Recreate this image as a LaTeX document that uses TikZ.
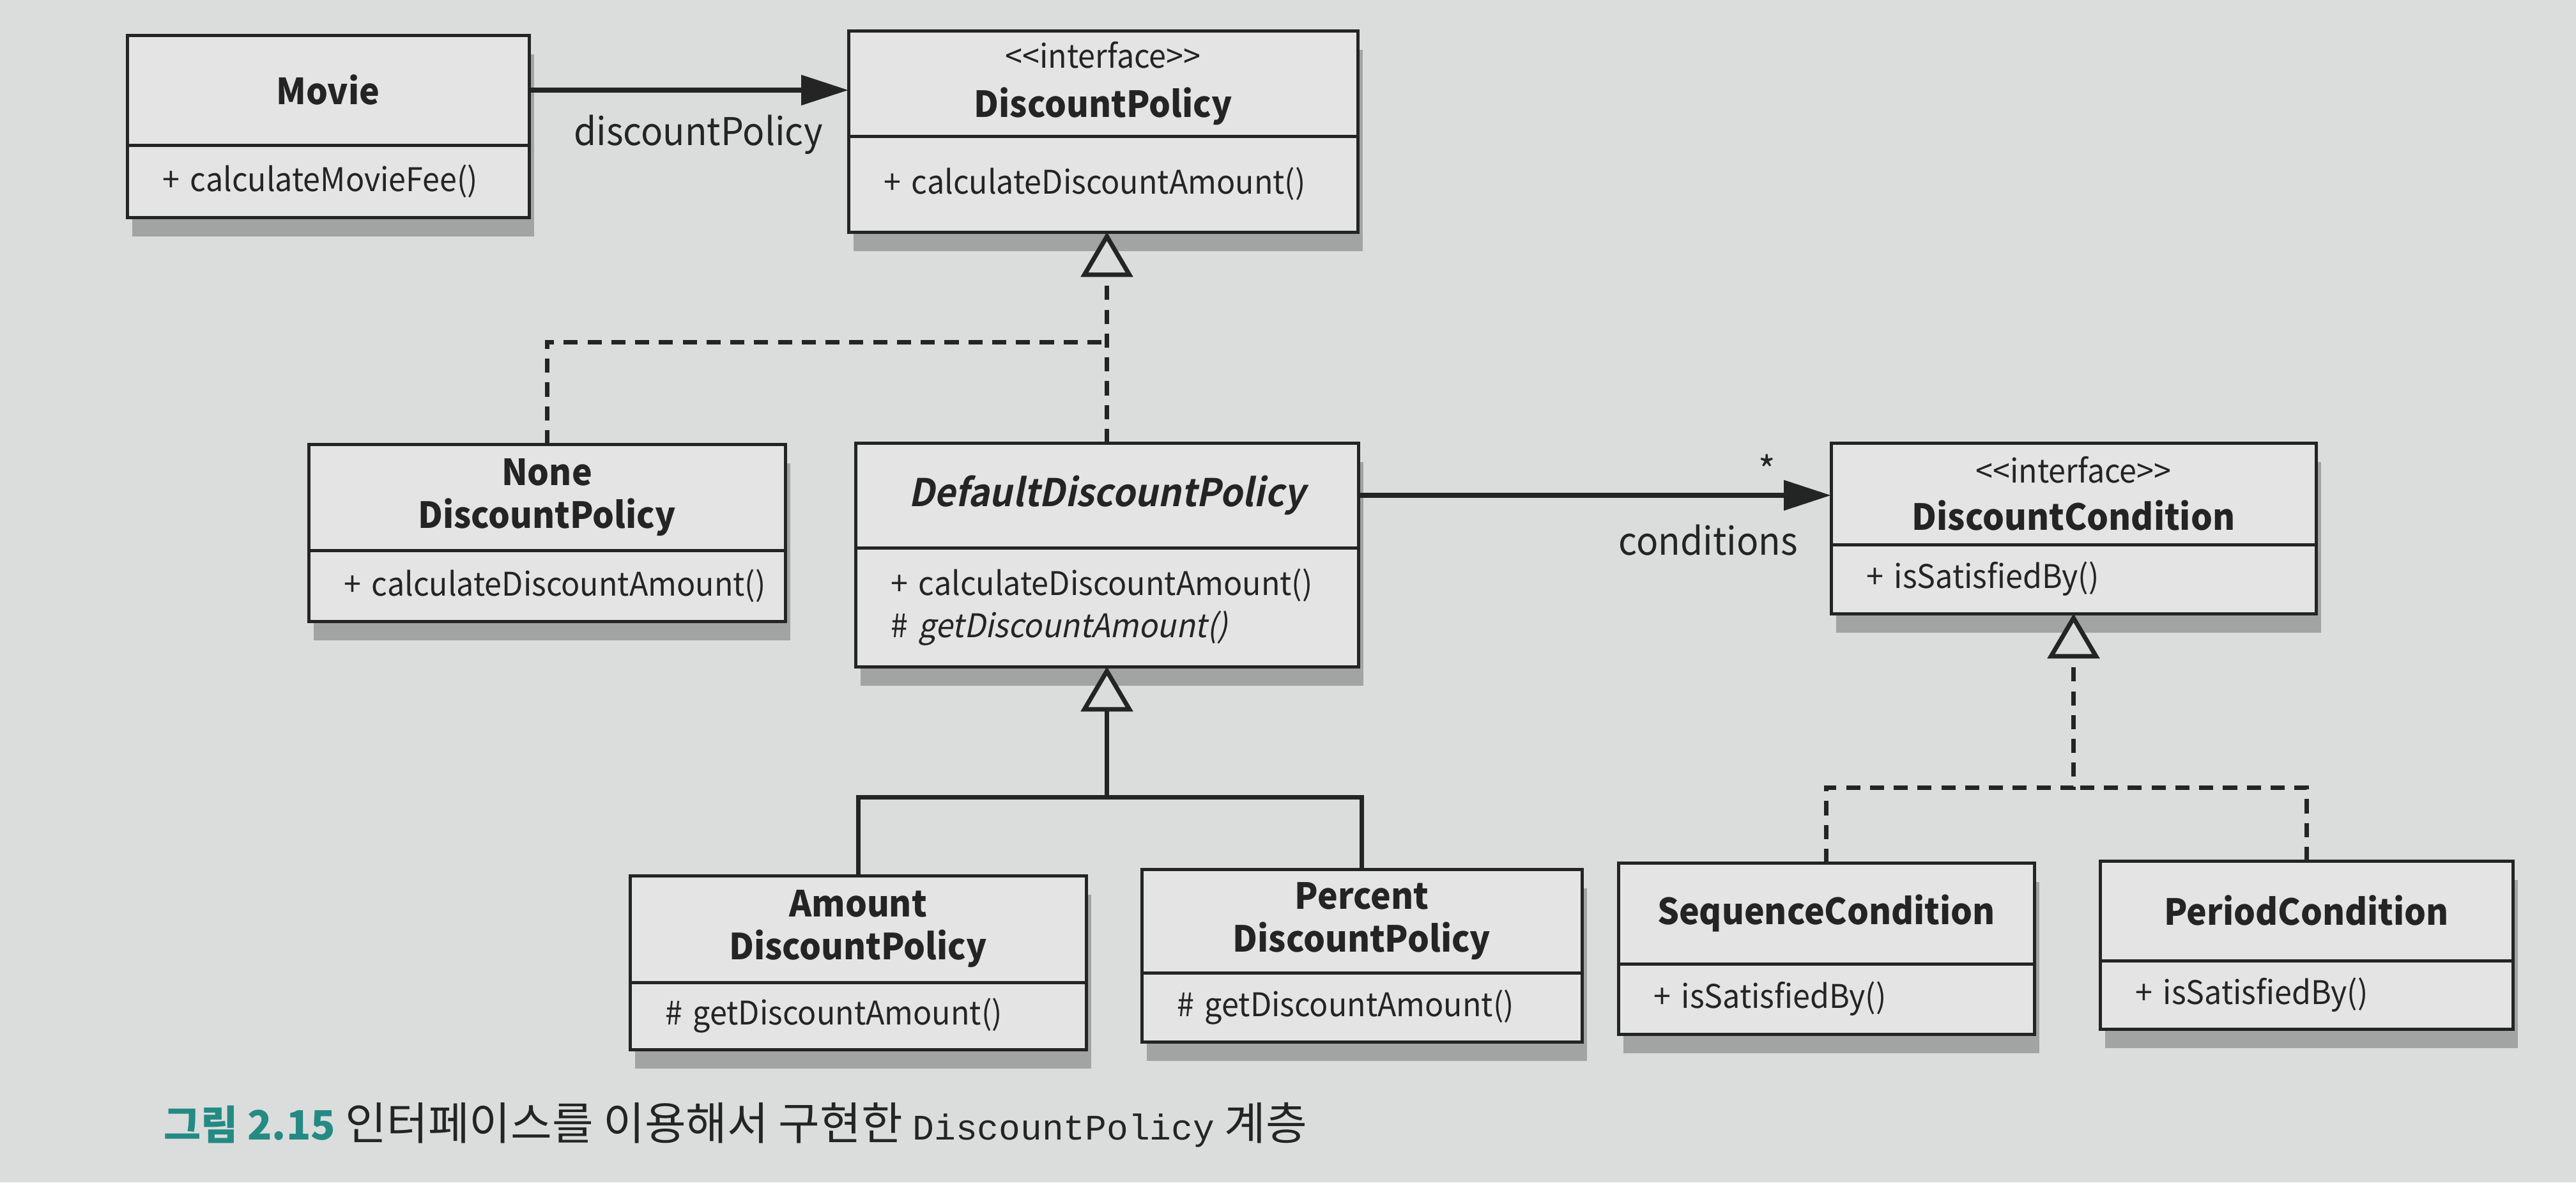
\documentclass[tikz,border=0pt]{standalone}
\usepackage{fontspec}
\setmainfont{Noto Sans CJK KR}[FakeStretch=0.95, ItalicFont=*, ItalicFeatures={FakeSlant=0.2}, BoldItalicFont=* Bold, BoldItalicFeatures={FakeSlant=0.2}]
\newfontfamily\capfont{Noto Sans CJK KR}
\setmonofont{Liberation Mono}
\usetikzlibrary{arrows.meta,positioning,shadows}
\definecolor{paper}{RGB}{219,221,220}
\definecolor{boxfill}{RGB}{227,228,227}
\definecolor{ink}{RGB}{36,36,36}
\definecolor{capteal}{RGB}{36,138,132}
\tikzset{
	classhead/.style={draw=ink, line width=0.5mm, fill=boxfill, outer sep=0pt, inner sep=0pt, anchor=north west, align=center, text=ink, font=\fontsize{16}{19}\selectfont\bfseries, drop shadow={shadow xshift=0.08cm, shadow yshift=-0.3cm, fill=black, opacity=0.26}},
	classbody/.style={draw=ink, line width=0.5mm, fill=boxfill, outer sep=0pt, inner sep=0pt, align=left, text=ink, font=\fontsize{14.5}{19}\selectfont, execute at begin node={\hyphenpenalty=10000\exhyphenpenalty=10000}, drop shadow={shadow xshift=0.08cm, shadow yshift=-0.3cm, fill=black, opacity=0.26}},
	lbl/.style={text=ink, font=\fontsize{17}{21}\selectfont},
	assoc/.style={line width=0.8mm, color=ink, -{Triangle[length=21pt, width=13pt]}},
	realize/.style={line width=0.7mm, color=ink, dash pattern=on 6.3pt off 4.3pt, -{Triangle[length=20pt, width=23pt, fill=paper]}},
	realizeline/.style={line width=0.7mm, color=ink, dash pattern=on 6.3pt off 4.3pt},
	inherit/.style={line width=0.7mm, color=ink, -{Triangle[length=20pt, width=23pt, fill=paper]}},
	inheritline/.style={line width=0.7mm, color=ink}
}
\def\stereo{{\fontsize{14.5}{19}\selectfont\mdseries <\kern0pt<interface>\kern0pt>}}
\def\umlclass(#1)(#2,#3)(#4:#5:#6)#7#8{
	\node[classhead, minimum width=#4cm, minimum height=#5cm] (#1) at (#2,#3) {#7};
	\node[classbody, minimum width=#4cm, minimum height=#6cm, text width=#4cm-1.1cm, below=0pt of #1] (#1-op) {#8};
}

\begin{document}
\begin{tikzpicture}
		%%%%% START %%%%%
		
		\fill[paper] (0, 0) rectangle (40.32, -18.5);
		\useasboundingbox (0, 0) rectangle (40.32, -18.5);
		
		\umlclass(movie)(1.99,-0.55)(6.29:1.72:1.13){Movie}{+~calculateMovieFee()}
		\umlclass(dp)(13.28,-0.48)(7.97:1.65:1.50){\stereo\\[3pt]DiscountPolicy}{+~calculateDiscountAmount()}
		
		\umlclass(none)(4.83,-6.95)(7.46:1.66:1.11){None\\DiscountPolicy}{+~calculateDiscountAmount()}
		\umlclass(default)(13.39,-6.93)(7.87:1.64:1.86){{\fontsize{17}{19}\selectfont\itshape DefaultDiscountPolicy}}{+~calculateDiscountAmount()\\\#~\textit{getDiscountAmount()}}
		\umlclass(dc)(28.66,-6.93)(7.59:1.59:1.08){\stereo\\[2pt]DiscountCondition}{+~isSatisfiedBy()}
		
		\umlclass(amount)(9.86,-13.70)(7.14:1.67:1.05){Amount\\DiscountPolicy}{\#~getDiscountAmount()}
		\umlclass(percent)(17.87,-13.60)(6.89:1.62:1.08){Percent\\DiscountPolicy}{\#~getDiscountAmount()}
		\umlclass(sequence)(25.33,-13.50)(6.51:1.58:1.10){SequenceCondition}{+~isSatisfiedBy()}
		\umlclass(period)(32.87,-13.47)(6.46:1.56:1.07){PeriodCondition}{+~isSatisfiedBy()}
		
		% associations
		\draw[assoc] (movie.east) -- (movie.east -| dp.west)
			node[lbl, midway, xshift=0.15cm, yshift=-0.7cm] (lblpolicy) {discountPolicy};
		\draw[assoc] (default.east) -- (default.east -| dc.west)
			node[lbl, pos=0.74, yshift=-0.7cm] (lblcond) {conditions}
			node[lbl, pos=0.865, yshift=0.4cm] (mult) {*};
		
		% interface realization
		\coordinate (polbranch) at (default.north |- 0,-5.35);
		\draw[realize] (default.north) -- (default.north |- dp-op.south);
		\draw[realizeline] (none.north) |- (polbranch);
		
		\coordinate (condbranch) at (dc-op.south |- 0,-12.32);
		\draw[realize] (sequence.north) |- (condbranch) -- (dc-op.south);
		\draw[realizeline] (period.north) |- (condbranch);
		
		% inheritance
		\coordinate (genbranch) at (default-op.south |- 0,-12.47);
		\draw[inherit] (amount.north) |- (genbranch) -- (default-op.south);
		\draw[inheritline] (percent.north) |- (genbranch);
		
		\node[anchor=west, text=ink, font=\capfont\fontsize{20}{22}\selectfont] (caption) at (2.44,-17.6)
			{{\color{capteal}\fontsize{18}{22}\selectfont\bfseries 그림 2.15} 인터페이스를 이용해서 구현한 {\fontsize{16}{22}\selectfont\texttt{DiscountPolicy}} 계층};
		
		%%%%% END %%%%%
\end{tikzpicture}
\end{document}
